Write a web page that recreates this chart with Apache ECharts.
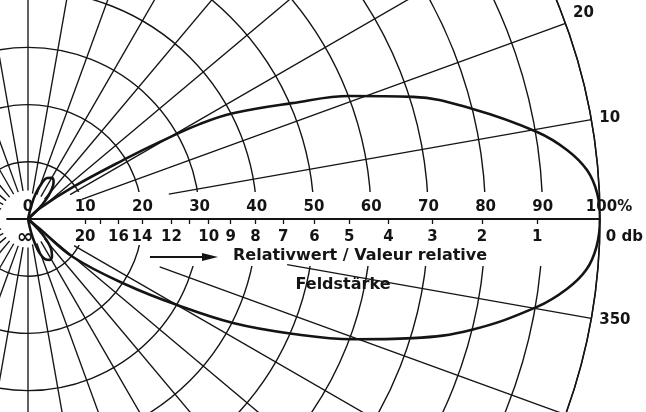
<!DOCTYPE html>
<html><head><meta charset="utf-8">
<script src="https://cdn.jsdelivr.net/npm/echarts@6/dist/echarts.min.js"></script>
<style>html,body{margin:0;padding:0;background:#fff}#c{width:646px;height:412px}</style>
</head><body><div id="c"></div>
<script>
// ---- data: radiation pattern (relative field strength %, angle in degrees) ----
const mainR = [0, 2.9, 9.7, 20.3, 26.7, 34.4, 40.3, 50.4, 60.3, 70.6, 80.1, 90.3, 95, 98.1, 99.6, 100, 99.5, 98.0, 95, 90.3, 80, 70.4, 60.6, 50.3, 40.2, 30, 20.8, 10.3, 2.6, 0];
const mainA = [45, 42, 35.4, 31.6, 30.3, 28.9, 27.3, 23.7, 20.9, 17.6, 13.9, 9.7, 7.3, 5.0, 2.6, 0, -2.8, -5.2, -7.4, -9.8, -14.0, -17.2, -20.3, -23.5, -26.9, -30, -33.7, -40.2, -40, -45];
const lobeUpR = [0, 2.5, 4.5, 6.5, 7.8, 8.3, 7.9, 6.6, 4.7, 2.5, 0];
const lobeUpA = [40, 44, 47, 51, 55, 60, 65, 69, 73, 76, 78];
const lobeDnR = [0, 2.5, 4.5, 6.5, 7.7, 8.1, 7.6, 6.4, 4.6, 2.5, 0];
const lobeDnA = [-40, -45, -48, -52, -57, -62, -67, -71, -74, -77, -79];

// ---- axes / tick labels ----
const pctLabels = [0, 10, 20, 30, 40, 50, 60, 70, 80, 90, 100];
const dbTicks = [Infinity, 20, 18, 16, 14, 12, 11, 10, 9, 8, 7, 6, 5, 4, 3, 2, 1, 0];
const dbLabeled = [Infinity, 20, 16, 14, 12, 10, 9, 8, 7, 6, 5, 4, 3, 2, 1, 0];
const angleLabels = [10, 20, 350];
const spokeAngles = [10,20,30,40,50,60,70,80,90,100,110,120,130,140,150,160,170,190,200,210,220,230,240,250,260,270,280,290,300,310,320,330,340,350];
const spokeStart  = [25,10,8.5,4.5,4.5,4.5,4.5,4.5,5,5,5,5,5,5,5,5,5, 5,5,5,5,5,5,5,5,5,4.5,4.5,4.5,4.5,4.5,9.3,24.5,46];

const INK = '#141414';
const FONT = 'DejaVu Sans';
const dbPos = d => (d === Infinity ? 0 : 100 * Math.pow(10, -d / 20));
const dbTickPos = dbTicks.map(dbPos);
const dbLabelPos = dbLabeled.map(dbPos);

const chart = echarts.init(document.getElementById('c'), null, {renderer: 'canvas'});

const series = [];
spokeAngles.forEach((a, i) => {
  series.push({
    type: 'line', coordinateSystem: 'polar', polarIndex: 0, z: 2,
    data: [[spokeStart[i], a], [100, a]],
    showSymbol: false, symbol: 'none', silent: true, clip: false,
    lineStyle: {color: INK, width: 1.35}, animation: false
  });
});
function curve(R, A) {
  return {
    type: 'line', coordinateSystem: 'polar', polarIndex: 0, z: 3,
    data: R.map((r, i) => [r, A[i]]),
    smooth: 0.4, showSymbol: false, symbol: 'none', silent: true, clip: false,
    lineStyle: {color: INK, width: 2.6}, animation: false
  };
}
series.push(curve(mainR, mainA));
series.push(curve(lobeUpR, lobeUpA));
series.push(curve(lobeDnR, lobeDnA));

const lblStyle = {color: INK, fontFamily: FONT, fontWeight: 'bold', fontSize: 15};

chart.setOption({
  backgroundColor: '#fff',
  animation: false,
  polar: [{center: [28, 219], radius: 572}],
  angleAxis: [{
    polarIndex: 0, type: 'value', min: 0, max: 360, interval: 10,
    startAngle: 0, clockwise: false, z: 0,
    axisLine: {show: true, lineStyle: {color: INK, width: 1.5}},
    axisTick: {show: false},
    splitLine: {show: false},
    axisLabel: Object.assign({margin: 8, formatter: v => (angleLabels.indexOf(v) >= 0 ? String(v) : '')}, lblStyle)
  }],
  radiusAxis: [{
    polarIndex: 0, type: 'value', min: 0, max: 100, interval: 10, z: 0,
    axisLine: {show: false}, axisTick: {show: false}, axisLabel: {show: false},
    splitLine: {show: true, lineStyle: {color: INK, width: 1.4}}
  }],
  grid: [
    {left: 7, right: 46, top: 100, height: 119},
    {left: 7, right: 46, top: 219, height: 100}
  ],
  xAxis: [{
    gridIndex: 0, type: 'value', min: -3.671, max: 100, position: 'bottom', z: 5,
    axisLine: {show: true, onZero: false, lineStyle: {color: INK, width: 1.8}},
    splitLine: {show: false},
    axisTick: {show: true, customValues: dbTickPos, length: 5, lineStyle: {color: INK, width: 1.3}},
    axisLabel: Object.assign({
      customValues: dbLabelPos, margin: 11,
      formatter: function (v) {
        const i = dbLabelPos.findIndex(p => Math.abs(p - v) < 0.05);
        if (i < 0) return '';
        const d = dbLabeled[i];
        if (d === Infinity) return '{inf|∞}';
        if (d === 0) return '{z|0 db}';
        return String(d);
      },
      rich: {
        z: Object.assign({padding: [0, 0, 0, 50]}, lblStyle),
        inf: Object.assign({}, lblStyle, {fontSize: 20, padding: [0, 6, 0, 0], lineHeight: 16})
      }
    }, lblStyle)
  }, {
    gridIndex: 1, type: 'value', min: -3.671, max: 100, position: 'top', z: 5,
    axisLine: {show: false}, axisTick: {show: false}, splitLine: {show: false},
    axisLabel: Object.assign({
      customValues: pctLabels, margin: 4,
      formatter: v => (v === 100 ? '{p|100%}' : String(v)),
      rich: {p: Object.assign({padding: [0, 0, 0, 18]}, lblStyle)}
    }, lblStyle)
  }],
  yAxis: [{gridIndex: 0, show: false, min: 0, max: 1}, {gridIndex: 1, show: false, min: 0, max: 1}],
  graphic: {elements: [
    {type: 'polygon', z: 1, silent: true,
     shape: {points: [[0, 192], [592, 192], [592, 266], [165, 266], [165, 245], [0, 245]]},
     style: {fill: '#fff'}},
    {type: 'line', z: 6, silent: true, shape: {x1: 150, y1: 257, x2: 206, y2: 257},
     style: {stroke: INK, lineWidth: 2}},
    {type: 'polygon', z: 6, silent: true, shape: {points: [[202, 253], [218, 257], [202, 261]]},
     style: {fill: INK}},
    {type: 'text', z: 6, silent: true, x: 233, y: 256,
     style: {text: 'Relativwert / Valeur relative', fill: INK, font: 'bold 16px "DejaVu Sans"', verticalAlign: 'middle', align: 'left'}},
    {type: 'text', z: 6, silent: true, x: 343, y: 285,
     style: {text: 'Feldstärke', fill: INK, font: 'bold 16px "DejaVu Sans"', verticalAlign: 'middle', align: 'center'}}
  ]},
  series: series
});
</script>
</body></html>
